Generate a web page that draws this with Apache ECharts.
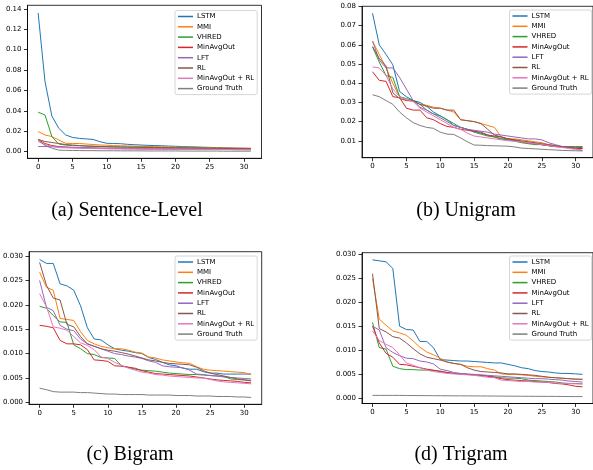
<!DOCTYPE html>
<html>
<head>
<meta charset="utf-8">
<script src="https://cdn.jsdelivr.net/npm/echarts@6/dist/echarts.min.js"></script>
<style>
html,body{margin:0;padding:0;background:#fff;}
#chart{width:593px;height:470px;}
</style>
</head>
<body>
<div id="chart"></div>
<script>
const seriesNames = ['LSTM','MMI','VHRED','MinAvgOut','LFT','RL','MinAvgOut + RL','Ground Truth'];
const colors = ['#1f77b4','#ff7f0e','#2ca02c','#d62728','#9467bd','#8c564b','#e377c2','#7f7f7f'];
const captions = ['(a) Sentence-Level','(b) Unigram','(c) Bigram','(d) Trigram'];
const xTicks = [0,5,10,15,20,25,30];
const yTicksSent = [0,0.02,0.04,0.06,0.08,0.10,0.12,0.14];
const yTicksUni = [0.01,0.02,0.03,0.04,0.05,0.06,0.07,0.08];
const yTicksBi = [0,0.005,0.010,0.015,0.020,0.025,0.030];
const yTicksTri = [0,0.005,0.010,0.015,0.020,0.025,0.030];

// (a) Sentence-Level
const sent_LSTM = [0.136,0.0688,0.035,0.023,0.0164,0.014,0.013,0.0125,0.012,0.0098,0.0082,0.008,0.0078,0.0072,0.0068,0.0065,0.0062,0.006,0.0058,0.0055,0.0053,0.005,0.0048,0.0046,0.0044,0.0042,0.004,0.0038,0.0036,0.0034,0.0033,0.0032];
const sent_MMI = [0.0197,0.0164,0.0148,0.0115,0.0082,0.008,0.008,0.0075,0.007,0.0066,0.0063,0.006,0.0058,0.0056,0.0054,0.0052,0.005,0.0049,0.0048,0.0046,0.0045,0.0044,0.0043,0.0042,0.004,0.0039,0.0038,0.0037,0.0036,0.0035,0.0034,0.0033];
const sent_VHRED = [0.0387,0.036,0.0148,0.0075,0.0065,0.006,0.0058,0.0056,0.0054,0.0052,0.005,0.0048,0.0047,0.0046,0.0045,0.0044,0.0043,0.0042,0.0041,0.004,0.0039,0.0038,0.0037,0.0036,0.0035,0.0034,0.0033,0.0032,0.0031,0.003,0.0029,0.0028];
const sent_MinAvgOut = [0.012,0.008,0.006,0.005,0.0045,0.004,0.0038,0.0036,0.0034,0.0032,0.003,0.003,0.0029,0.0028,0.0028,0.0027,0.0026,0.0026,0.0025,0.0025,0.0024,0.0024,0.0023,0.0023,0.0022,0.0022,0.0022,0.0021,0.0021,0.002,0.002,0.002];
const sent_LFT = [0.005,0.005,0.005,0.0048,0.0045,0.0043,0.0041,0.004,0.0038,0.0036,0.0035,0.0034,0.0033,0.0032,0.0031,0.003,0.003,0.0029,0.0028,0.0028,0.0027,0.0026,0.0026,0.0025,0.0025,0.0024,0.0023,0.0023,0.0022,0.0021,0.0021,0.002];
const sent_RL = [0.012,0.01,0.009,0.008,0.007,0.0065,0.006,0.0055,0.0052,0.005,0.0048,0.0046,0.0045,0.0044,0.0043,0.0042,0.0041,0.004,0.0039,0.0038,0.0037,0.0036,0.0036,0.0035,0.0034,0.0034,0.0033,0.0032,0.0032,0.0031,0.003,0.003];
const sent_MinAvgOutRL = [0.01,0.007,0.005,0.004,0.0038,0.0036,0.0034,0.0032,0.0031,0.003,0.0029,0.0028,0.0028,0.0027,0.0027,0.0026,0.0026,0.0025,0.0025,0.0024,0.0024,0.0023,0.0023,0.0022,0.0022,0.0022,0.0021,0.0021,0.0021,0.002,0.002,0.002];
const sent_GT = [0.0115,0.006,0.0035,0.0015,0.0013,0.0012,0.0011,0.001,0.001,0.0009,0.0009,0.0009,0.0008,0.0008,0.0008,0.0008,0.0007,0.0007,0.0007,0.0007,0.0007,0.0006,0.0006,0.0006,0.0006,0.0006,0.0006,0.0005,0.0005,0.0005,0.0005,0.0005];

// (b) Unigram
const uni_LSTM = [0.0765,0.06,0.055,0.0496,0.0357,0.033,0.031,0.030,0.028,0.025,0.023,0.021,0.018,0.017,0.016,0.015,0.014,0.013,0.012,0.011,0.011,0.01,0.0095,0.009,0.0085,0.008,0.0075,0.007,0.007,0.0065,0.006,0.006];
const uni_MMI = [0.062,0.055,0.048,0.04,0.033,0.031,0.0305,0.029,0.0285,0.0275,0.027,0.026,0.025,0.021,0.0205,0.02,0.019,0.018,0.017,0.012,0.011,0.011,0.0105,0.01,0.0095,0.009,0.008,0.0075,0.007,0.0065,0.0062,0.006];
const uni_VHRED = [0.059,0.051,0.044,0.043,0.033,0.032,0.031,0.029,0.026,0.024,0.023,0.021,0.019,0.017,0.016,0.0145,0.0135,0.0125,0.012,0.011,0.0105,0.0098,0.009,0.0085,0.008,0.008,0.0075,0.007,0.007,0.007,0.007,0.007];
const uni_MinAvgOut = [0.046,0.0415,0.041,0.033,0.0325,0.027,0.026,0.026,0.022,0.021,0.019,0.0175,0.017,0.016,0.0155,0.015,0.0145,0.013,0.0125,0.012,0.011,0.0105,0.0095,0.009,0.0085,0.008,0.0075,0.007,0.0068,0.0065,0.006,0.006];
const uni_LFT = [0.062,0.052,0.048,0.048,0.043,0.037,0.031,0.0275,0.026,0.024,0.022,0.02,0.018,0.017,0.016,0.0155,0.015,0.0145,0.0135,0.013,0.0125,0.012,0.0115,0.011,0.011,0.0105,0.009,0.008,0.007,0.0065,0.006,0.005];
const uni_RL = [0.059,0.053,0.049,0.035,0.032,0.031,0.031,0.029,0.028,0.027,0.027,0.026,0.026,0.021,0.0205,0.02,0.019,0.016,0.013,0.012,0.011,0.0105,0.01,0.0095,0.009,0.0085,0.008,0.0075,0.007,0.0068,0.0066,0.0065];
const uni_MinAvgOutRL = [0.0485,0.048,0.044,0.037,0.033,0.0315,0.0305,0.027,0.025,0.023,0.021,0.019,0.017,0.016,0.014,0.0125,0.012,0.0115,0.011,0.0105,0.01,0.0098,0.0095,0.009,0.0085,0.008,0.0075,0.007,0.0065,0.006,0.0055,0.005];
const uni_GT = [0.034,0.033,0.031,0.029,0.025,0.022,0.0195,0.018,0.017,0.0165,0.0145,0.0135,0.0133,0.0115,0.0095,0.0078,0.0077,0.0075,0.0074,0.0073,0.0072,0.0068,0.0062,0.006,0.0058,0.0056,0.0054,0.0052,0.005,0.0049,0.0048,0.0047];

// (c) Bigram
const bi_LSTM = [0.0293,0.0285,0.0285,0.0243,0.0239,0.023,0.0198,0.0153,0.013,0.0128,0.0118,0.011,0.0107,0.0105,0.0102,0.01,0.0092,0.0088,0.0082,0.0077,0.0075,0.007,0.0068,0.0068,0.0063,0.006,0.006,0.0058,0.0058,0.0058,0.0058,0.0058];
const bi_MMI = [0.0267,0.0236,0.023,0.0172,0.017,0.0168,0.0145,0.0127,0.012,0.0115,0.0112,0.011,0.011,0.0107,0.0103,0.0101,0.0093,0.0091,0.0087,0.0085,0.0083,0.0081,0.008,0.0073,0.0068,0.0066,0.0065,0.0064,0.0063,0.0062,0.0061,0.0057];
const bi_VHRED = [0.0197,0.0193,0.0178,0.0165,0.0164,0.0118,0.011,0.01,0.0098,0.0092,0.0091,0.009,0.0075,0.0072,0.0068,0.0066,0.0065,0.0064,0.0062,0.006,0.0059,0.0058,0.0057,0.0057,0.0056,0.0055,0.0054,0.0053,0.0048,0.0047,0.0046,0.0045];
const bi_MinAvgOut = [0.0158,0.0156,0.0153,0.0127,0.012,0.012,0.0118,0.0108,0.0087,0.0086,0.0084,0.0075,0.0074,0.0072,0.007,0.0065,0.0062,0.0059,0.0058,0.0057,0.0056,0.0055,0.0054,0.0052,0.005,0.0048,0.0046,0.0045,0.0044,0.0043,0.0041,0.004];
const bi_LFT = [0.025,0.0195,0.0188,0.0158,0.015,0.0147,0.013,0.012,0.0115,0.011,0.0105,0.01,0.0098,0.0095,0.0093,0.009,0.0085,0.0082,0.0075,0.0073,0.0072,0.0071,0.0066,0.0058,0.0057,0.0055,0.0054,0.0052,0.0051,0.005,0.0049,0.0048];
const bi_RL = [0.0287,0.024,0.0214,0.021,0.016,0.0155,0.0135,0.012,0.0115,0.011,0.0107,0.0105,0.0102,0.0099,0.0095,0.0091,0.0087,0.0085,0.0082,0.008,0.0079,0.0078,0.0077,0.0072,0.0065,0.006,0.0057,0.0054,0.0051,0.0048,0.0046,0.0044];
const bi_MinAvgOutRL = [0.0223,0.0196,0.0155,0.0152,0.0148,0.0135,0.0122,0.0117,0.0108,0.0093,0.009,0.0082,0.0076,0.007,0.0066,0.0062,0.006,0.0057,0.0056,0.0054,0.0053,0.0052,0.0051,0.005,0.005,0.0047,0.0044,0.0042,0.0041,0.004,0.0039,0.0038];
const bi_GT = [0.0029,0.0026,0.0022,0.0021,0.0021,0.0021,0.002,0.002,0.0019,0.0018,0.0017,0.0017,0.0016,0.0016,0.0016,0.0016,0.0015,0.0015,0.0015,0.0015,0.0014,0.0014,0.0014,0.0013,0.0013,0.0013,0.0012,0.0012,0.0012,0.0011,0.0011,0.001];

// (d) Trigram
const tri_LSTM = [0.0289,0.0287,0.0285,0.0271,0.015,0.0143,0.0142,0.0118,0.0118,0.0105,0.008,0.0079,0.0078,0.0077,0.0077,0.0076,0.0075,0.0074,0.0073,0.0073,0.007,0.0067,0.0063,0.0061,0.0057,0.0055,0.0054,0.0052,0.0051,0.0051,0.005,0.0049];
const tri_MMI = [0.025,0.0165,0.0152,0.014,0.0136,0.0131,0.0119,0.0106,0.0096,0.009,0.0083,0.0075,0.0072,0.007,0.0066,0.0065,0.0065,0.0061,0.0058,0.005,0.0049,0.0049,0.0048,0.0047,0.0045,0.0044,0.0043,0.0042,0.0041,0.004,0.0039,0.0038];
const tri_VHRED = [0.0158,0.0105,0.0102,0.0066,0.0061,0.0059,0.0059,0.0058,0.0058,0.0057,0.0056,0.0053,0.0051,0.005,0.0049,0.0048,0.0047,0.0046,0.0044,0.0042,0.0041,0.0041,0.004,0.0037,0.0036,0.0035,0.0034,0.0033,0.0031,0.003,0.003,0.0029];
const tri_MinAvgOut = [0.015,0.0115,0.0093,0.0085,0.007,0.0069,0.0066,0.0063,0.006,0.0058,0.0055,0.0053,0.0051,0.005,0.0049,0.0048,0.0047,0.0045,0.0043,0.004,0.0038,0.0037,0.0036,0.0035,0.0034,0.0033,0.0032,0.003,0.0029,0.0027,0.0024,0.0023];
const tri_LFT = [0.015,0.0142,0.0105,0.0095,0.0088,0.0083,0.0082,0.0077,0.0075,0.0071,0.006,0.0057,0.0053,0.0051,0.005,0.0049,0.0048,0.0047,0.0046,0.0045,0.0044,0.0043,0.0042,0.0041,0.004,0.004,0.0039,0.0038,0.0037,0.0035,0.0034,0.0033];
const tri_RL = [0.026,0.0145,0.0138,0.0128,0.0125,0.0115,0.0103,0.0092,0.0085,0.0082,0.0079,0.0075,0.0072,0.007,0.0063,0.0058,0.0055,0.0054,0.0053,0.0052,0.005,0.005,0.0049,0.0048,0.0047,0.0045,0.0043,0.0042,0.0041,0.004,0.0039,0.0039];
const tri_MinAvgOutRL = [0.014,0.012,0.0112,0.0105,0.009,0.0073,0.0068,0.0063,0.0058,0.0055,0.0053,0.0051,0.005,0.0049,0.0048,0.0047,0.0045,0.0043,0.0042,0.0037,0.0036,0.0035,0.0034,0.0034,0.0033,0.0033,0.0032,0.0031,0.003,0.003,0.0029,0.0029];
const tri_GT = [0.0005,0.0005,0.0005,0.0005,0.0005,0.00048,0.00047,0.00046,0.00045,0.00044,0.00043,0.00042,0.00041,0.0004,0.0004,0.00039,0.00038,0.00037,0.00036,0.00035,0.00034,0.00033,0.00032,0.00031,0.0003,0.0003,0.00029,0.00028,0.00027,0.00026,0.00025,0.00025];

const panels = [
  {series:[sent_LSTM,sent_MMI,sent_VHRED,sent_MinAvgOut,sent_LFT,sent_RL,sent_MinAvgOutRL,sent_GT], yTicks:yTicksSent, dec:2,
   grid:{left:27.5,top:5.3,width:234,height:153}, ymin:-0.0065, ymax:0.1435, legend:{left:175,top:10.5}, cap:[127,211]},
  {series:[uni_LSTM,uni_MMI,uni_VHRED,uni_MinAvgOut,uni_LFT,uni_RL,uni_MinAvgOutRL,uni_GT], yTicks:yTicksUni, dec:2,
   grid:{left:362,top:6.3,width:235,height:151.4}, ymin:0.0012, ymax:0.0801, legend:{left:509.5,top:10}, cap:[466,211]},
  {series:[bi_LSTM,bi_MMI,bi_VHRED,bi_MinAvgOut,bi_LFT,bi_RL,bi_MinAvgOutRL,bi_GT], yTicks:yTicksBi, dec:3,
   grid:{left:27.7,top:251.7,width:234,height:152.6}, ymin:-0.0004, ymax:0.0309, legend:{left:175,top:256}, cap:[130,455]},
  {series:[tri_LSTM,tri_MMI,tri_VHRED,tri_MinAvgOut,tri_LFT,tri_RL,tri_MinAvgOutRL,tri_GT], yTicks:yTicksTri, dec:3,
   grid:{left:362,top:252.7,width:235,height:150.8}, ymin:-0.0012, ymax:0.0304, legend:{left:509.5,top:256}, cap:[461,455]}
];

const textColor = '#000';
const font = 'DejaVu Sans';
const option = {
  animation:false,
  backgroundColor:'#fff',
  grid:[], xAxis:[], yAxis:[], series:[], legend:[], graphic:[]
};
panels.forEach((p, gi) => {
  option.grid.push(Object.assign({show:true, borderColor:'#000', borderWidth:0.8, backgroundColor:'transparent', containLabel:false}, p.grid));
  option.xAxis.push({
    type:'value', gridIndex:gi, min:-1.55, max:32.55,
    axisLine:{show:true, onZero:false, lineStyle:{color:'#000', width:0.8}},
    axisTick:{show:true, length:3.5, lineStyle:{color:'#000', width:0.8}, customValues:xTicks},
    axisLabel:{show:true, margin:5, fontSize:7, fontFamily:font, color:textColor, customValues:xTicks, formatter:v=>String(v)},
    splitLine:{show:false}
  });
  option.yAxis.push({
    type:'value', gridIndex:gi, min:p.ymin, max:p.ymax,
    axisLine:{show:true, onZero:false, lineStyle:{color:'#000', width:0.8}},
    axisTick:{show:true, length:3.5, lineStyle:{color:'#000', width:0.8}, customValues:p.yTicks},
    axisLabel:{show:true, margin:6, fontSize:7, fontFamily:font, color:textColor, customValues:p.yTicks, formatter:v=>Number(v).toFixed(p.dec)},
    splitLine:{show:false}
  });
  p.series.forEach((arr, si) => {
    option.series.push({
      type:'line', name:seriesNames[si], xAxisIndex:gi, yAxisIndex:gi,
      data:arr.map((v,i)=>[i,v]), symbol:'none', showSymbol:false,
      lineStyle:{color:colors[si], width:1}, itemStyle:{color:colors[si]},
      emphasis:{disabled:true}, silent:true
    });
  });
  option.legend.push({
    show:true, orient:'vertical', left:p.legend.left, top:p.legend.top,
    data:seriesNames, icon:'rect', itemWidth:15, itemHeight:1.5, itemGap:2.3,
    padding:[2,3,2,3], borderColor:'#cccccc', borderWidth:0.8, borderRadius:2,
    backgroundColor:'rgba(255,255,255,0.8)', selectedMode:false,
    textStyle:{fontSize:7, fontFamily:font, color:textColor, lineHeight:8, padding:[0,0,0,-1]}
  });
  option.graphic.push({
    type:'text', x:p.cap[0], y:p.cap[1],
    style:{text:captions[gi], fill:'#000', font:'20px "Liberation Serif"', textAlign:'center', textVerticalAlign:'middle'}
  });
});

const chart = echarts.init(document.getElementById('chart'), null, {renderer:'canvas'});
chart.setOption(option);
</script>
</body>
</html>
